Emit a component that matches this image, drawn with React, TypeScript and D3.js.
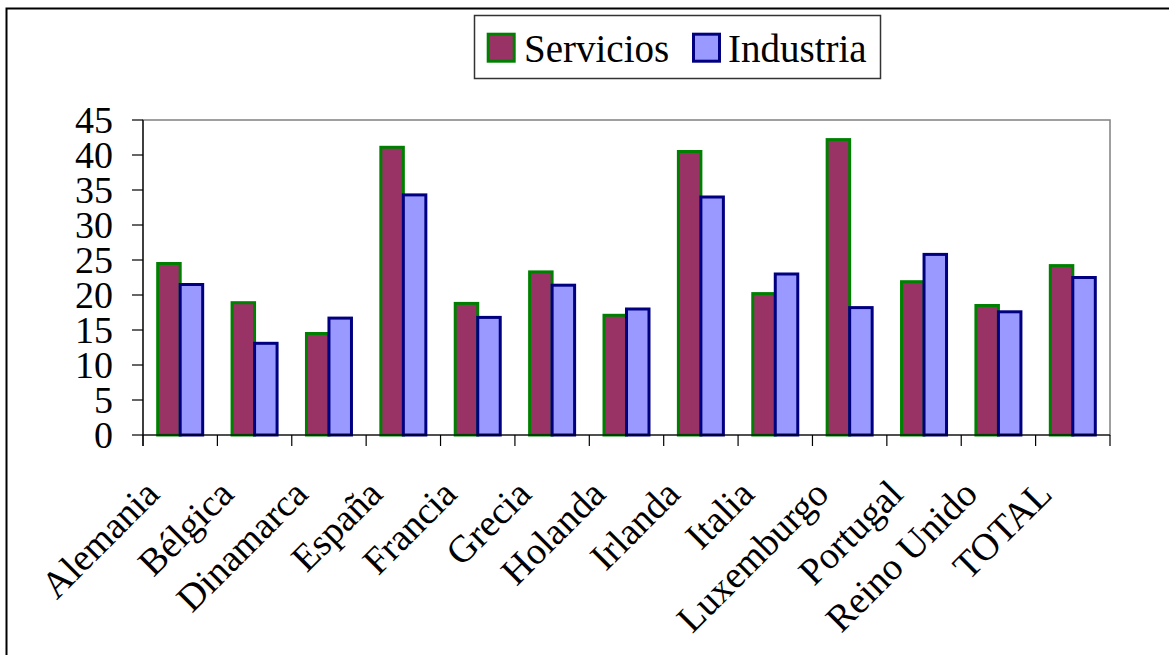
import React from "react";
import * as d3 from "d3";

const categories = ["Alemania", "Bélgica", "Dinamarca", "España", "Francia", "Grecia", "Holanda", "Irlanda", "Italia", "Luxemburgo", "Portugal", "Reino Unido", "TOTAL"];
const servicios = [24.5, 18.9, 14.5, 41.1, 18.8, 23.3, 17.1, 40.5, 20.2, 42.2, 21.9, 18.5, 24.2];
const industria = [21.5, 13.1, 16.7, 34.3, 16.8, 21.4, 18.0, 34.0, 23.0, 18.2, 25.8, 17.6, 22.5];
const seriesNames = ["Servicios", "Industria"];
const yTicks = [0, 5, 10, 15, 20, 25, 30, 35, 40, 45];

const W = 1169;
const H = 655;
const FONT = '"Liberation Serif", "Times New Roman", "DejaVu Serif", serif';

const plot = { left: 143, right: 1110, top: 120, bottom: 435 };

const seriesStyle: Record<string, { fill: string; stroke: string }> = {
  Servicios: { fill: "#993366", stroke: "#008000" },
  Industria: { fill: "#9999FF", stroke: "#000080" },
};

const textStyle = { fontFamily: FONT };

export default function App() {
  const x0 = d3.scaleBand<string>().domain(categories).range([plot.left, plot.right]).padding(0);
  const x1 = d3
    .scaleBand<string>()
    .domain(seriesNames)
    .range([0, x0.bandwidth()])
    .paddingInner(0)
    .paddingOuter(0.653);
  const y = d3.scaleLinear().domain([0, 45]).range([plot.bottom, plot.top]);

  const values: Record<string, number[]> = { Servicios: servicios, Industria: industria };
  const boundaries = [...categories.map((c) => x0(c) as number), plot.right];

  return (
    <svg
      width={W}
      height={H}
      style={{ position: "absolute", left: 0, top: 0, background: "#fff", fontFamily: FONT }}
    >
      <rect x={0} y={0} width={W} height={H} fill="#fff" />
      {/* outer chart border */}
      <rect x={6.5} y={8.5} width={W + 20} height={H + 20} fill="none" stroke="#000" strokeWidth={2} />

      {/* plot area border */}
      <rect
        x={plot.left}
        y={plot.top}
        width={plot.right - plot.left}
        height={plot.bottom - plot.top}
        fill="none"
        stroke="#808080"
        strokeWidth={1.5}
      />

      {/* bars */}
      {seriesNames.map((s) => (
        <g key={s}>
          {categories.map((c, i) => {
            const v = values[s][i];
            const bx = (x0(c) as number) + (x1(s) as number);
            return (
              <rect
                key={c}
                x={bx}
                y={y(v)}
                width={x1.bandwidth()}
                height={y(0) - y(v)}
                fill={seriesStyle[s].fill}
                stroke={seriesStyle[s].stroke}
                strokeWidth={3}
              />
            );
          })}
        </g>
      ))}

      {/* y axis */}
      <line x1={plot.left} x2={plot.left} y1={plot.top} y2={plot.bottom + 11} stroke="#000" strokeWidth={1.2} />
      {yTicks.map((t) => (
        <g key={t}>
          <line x1={plot.left - 11} x2={plot.left} y1={y(t)} y2={y(t)} stroke="#000" strokeWidth={1.2} />
          <text x={113} y={y(t) + 13} fontSize={38} textAnchor="end" fill="#000" style={textStyle}>
            {t}
          </text>
        </g>
      ))}

      {/* x axis */}
      <line x1={plot.left} x2={plot.right} y1={plot.bottom} y2={plot.bottom} stroke="#000" strokeWidth={1.2} />
      {boundaries.map((bx, i) => (
        <line key={i} x1={bx} x2={bx} y1={plot.bottom} y2={plot.bottom + 11} stroke="#000" strokeWidth={1.2} />
      ))}
      {categories.map((c) => {
        const cx = (x0(c) as number) + x0.bandwidth() / 2 - 19;
        const cy = 496;
        return (
          <text
            key={c}
            x={cx}
            y={cy}
            fontSize={38}
            textAnchor="end"
            fill="#000"
            style={textStyle}
            transform={`rotate(-45 ${cx} ${cy})`}
          >
            {c}
          </text>
        );
      })}

      {/* legend */}
      <rect x={474.5} y={15.5} width={406} height={63} fill="#fff" stroke="#333" strokeWidth={1.5} />
      <rect x={488.2} y={34.2} width={26} height={27} fill={seriesStyle.Servicios.fill} stroke={seriesStyle.Servicios.stroke} strokeWidth={3} />
      <text x={524} y={61.5} fontSize={39} fill="#000" style={textStyle}>
        {seriesNames[0]}
      </text>
      <rect x={693.5} y={34.2} width={26} height={27} fill={seriesStyle.Industria.fill} stroke={seriesStyle.Industria.stroke} strokeWidth={3} />
      <text x={728} y={61.5} fontSize={39} fill="#000" style={textStyle}>
        {seriesNames[1]}
      </text>
    </svg>
  );
}
